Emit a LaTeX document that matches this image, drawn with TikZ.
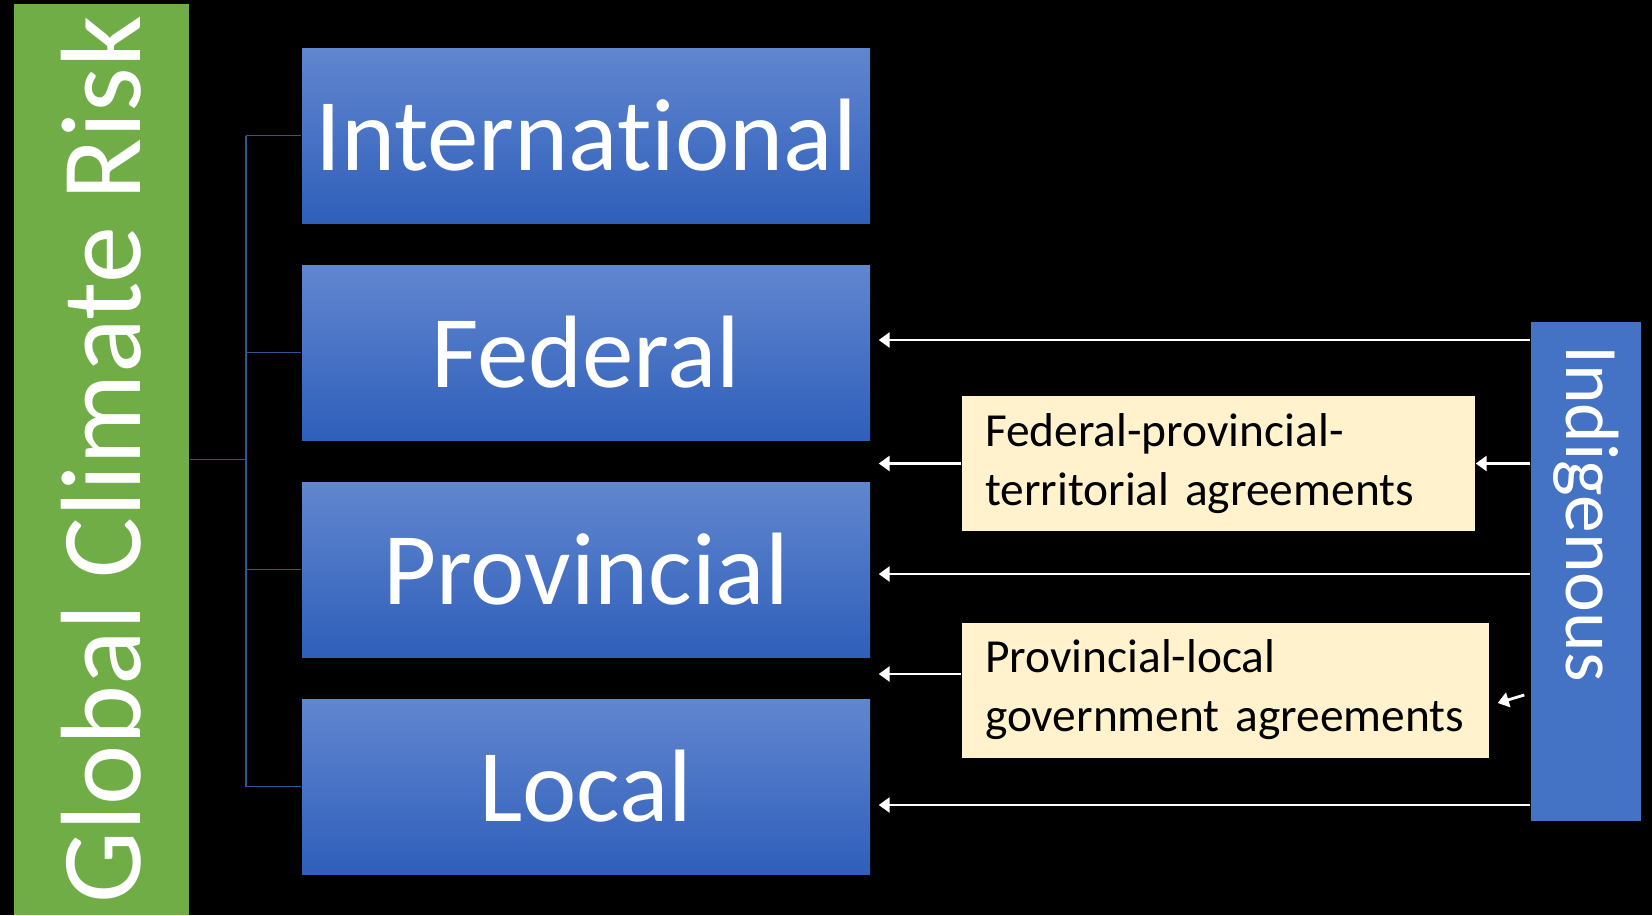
\documentclass[tikz,border=0pt]{standalone}
\usepackage{fontspec}
\setmainfont{Carlito}[Ligatures=NoCommon]
\usetikzlibrary{arrows.meta,positioning,calc}
\definecolor{gcrgreen}{HTML}{70AD47}
\definecolor{gcrtop}{HTML}{6186CF}
\definecolor{gcrbottom}{HTML}{2F5FBA}
\definecolor{gcrindig}{HTML}{4472C4}
\definecolor{gcrcream}{HTML}{FFF2CC}
\definecolor{gcrline}{HTML}{2F5597}

\begin{document}
\begin{tikzpicture}[
    risk/.style={fill=gcrgreen, text=white, rotate=90, inner sep=0pt,
                 minimum width=9.11cm, minimum height=1.75cm,
                 font=\fontsize{32.5}{32.5}\selectfont},
    level/.style={top color=gcrtop, bottom color=gcrbottom, text=white,
                  minimum width=5.68cm, minimum height=1.75cm, inner sep=0pt,
                  font=\fontsize{29.3}{29.3}\selectfont},
    indig/.style={fill=gcrindig, text=white, rotate=-90, align=left,
                  inner xsep=0.23cm, inner ysep=0pt, text width=4.53cm,
                  minimum height=1.10cm, font=\fontsize{21.5}{21.5}\selectfont},
    agree/.style={fill=gcrcream, text=black, align=left, inner xsep=0.23cm,
                  minimum height=1.35cm, font=\fontsize{13.5}{16.8}\selectfont},
    tree/.style={draw=gcrline, line width=0.45pt},
    arrow/.style={-{Triangle[length=1.1mm,width=1.5mm]}, line width=0.8pt, draw=white}
]
\fill[black] (0,0) rectangle (16.52,-9.15);
\useasboundingbox (0,0) rectangle (16.52,-9.15);

\node[risk] (risk) at (1.015,-4.595) {Global Climate Risk};

\node[level] (intl) at (5.86,-1.355) {International};
\node[level] (fed) at (5.86,-3.525) {Federal};
\node[level] (prov) at (5.86,-5.695) {Provincial};
\node[level] (local) at (5.86,-7.865) {Local};

\node[indig] (ind) at (15.86,-5.715) {Indigenous};

\node[agree, text width=4.67cm] (fpt) at (12.185,-4.635) {Federal-provincial-\\territorial agreements};
\node[agree, text width=4.81cm] (pl) at (12.255,-6.90) {Provincial-local\\government agreements};

% tree on the left
\coordinate (trunk) at (2.46,0);
\draw[tree] (risk.south) -- (risk.south -| trunk);
\draw[tree] (intl.west -| trunk) -- (local.west -| trunk);
\foreach \lvl in {intl,fed,prov,local}
  \draw[tree] (\lvl.west -| trunk) -- (\lvl.west);

% arrows from the right
\coordinate (fedin) at ($(fed.east)+(0.08,0.125)$);
\coordinate (provin) at ($(prov.east)+(0.08,-0.045)$);
\coordinate (localin) at ($(local.east)+(0.08,-0.185)$);
\coordinate (plout) at ($(pl.west)+(0,0.16)$);
\draw[arrow] (ind.south |- fedin) -- (fedin);
\draw[arrow] (ind.south |- provin) -- (provin);
\draw[arrow] (ind.south |- localin) -- (localin);
\draw[arrow] (fpt.west) -- (fpt.west -| fedin);
\draw[arrow] (plout) -- (plout -| fedin);
\draw[arrow] (ind.south |- fpt.east) -- (fpt.east);
\draw[arrow] ($(ind.south |- pl.east)+(-0.06,-0.05)$) -- ($(pl.east)+(0.08,-0.13)$);
\end{tikzpicture}
\end{document}
